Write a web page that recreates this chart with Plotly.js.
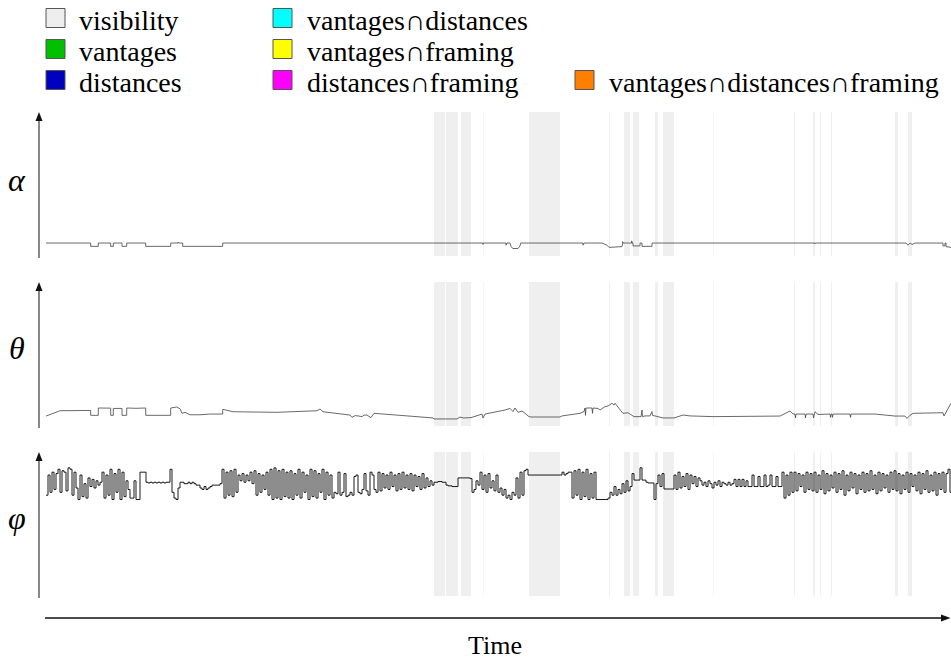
<!DOCTYPE html>
<html><head><meta charset="utf-8">
<script src="https://cdn.plot.ly/plotly-3.0.1.min.js"></script>
<style>html,body{margin:0;padding:0;background:#fff}#chart{width:951px;height:661px}</style>
</head><body><div id="chart"></div>
<script>
// ---------------- data ----------------
const legendLabels = ['visibility','vantages','distances','vantages∩distances','vantages∩framing','distances∩framing','vantages∩distances∩framing'];
const legendColors = ['#eeeeee','#00c000','#0000c0','#00ffff','#ffff00','#ff00ff','#ff8000'];
const panelLabels = ['α','θ','φ'];
const timeLabel = 'Time';

// visibility intervals (time units)
const visStart = [388,400,415,437,483,563,578,587,609,617,667,748,767,774,785,849,862];
const visEnd   = [399,412,425,437.6,514,564,584,593,612,628,667.6,749,769,775,786,852,866];

// alpha samples [time, value]
const alphaSamples = [[0,9],[44.7,9],[44.7,6.7],[52.3,6.7],[52.3,9],[64.7,9],[64.7,6.7],[67.3,6.7],[67.3,9],[76,9],[76,6.7],[80.7,6.7],[80.7,9],[99.7,9],[99.7,6.7],[124.7,6.7],[124.7,9],[132,9],[132,9.6],[133,9],[136.7,9],[136.7,6.7],[176.7,6.7],[176.7,9],[437,9],[437,8],[437.5,9],[460,9],[460,7.5],[461,9],[464,9],[465,6.5],[467,5.2],[472,5.2],[474,7],[474.7,9],[537,9],[537,7.5],[538,9],[556,9],[558,8.3],[561,7.5],[563,6],[572,6],[576,6.5],[576.7,9],[576.7,10],[577.2,9],[585.7,9],[585.7,10.5],[586.2,9],[587,9],[587,7],[594,7],[594,9],[596,9],[596,6.7],[606,6.7],[606,9],[769,9],[769,8.5],[769.5,9],[860,9],[862,7.5],[864,9],[866,8],[869,9],[897,9],[897,7],[899,7],[899,9],[900,9],[900,6.5],[905,6]];

// theta samples [time, value]
const thetaSamples = [[0,6.9],[9,9.5],[14,10.6],[44.7,10.8],[44.7,7.4],[52.3,7.4],[52.3,12.5],[64.7,12.4],[64.7,7.4],[67.3,7.4],[67.3,12.2],[76,12.2],[76,7.4],[80.7,7.4],[80.7,12.5],[90,12.3],[99.7,12.5],[99.7,7.4],[124.7,7.4],[124.7,12.5],[130.7,13.2],[134,12.0],[136,8.8],[139,9.5],[144,7.8],[154,7.8],[164,8.3],[176.7,8.3],[176.7,11.6],[187,9.9],[231,9.5],[271,10.6],[274,11.8],[277,9.9],[304,7.6],[306,6.0],[309,7.2],[312,7.0],[316,6.5],[318,7.6],[321,7.6],[325,5.8],[328,8.8],[354,7.4],[387,5.6],[388,4.9],[411,4.9],[414,6.25],[417,5.6],[425,5.8],[430,7.0],[434,8.3],[436,8.3],[437,5.6],[439,8.3],[459,11.1],[464,12.2],[467,10.0],[469,12.5],[472,9.5],[476,10.4],[479,8.8],[483,6.5],[485,6.25],[514,6.25],[516,7.0],[534,8.8],[538,10.0],[539,12.5],[539.5,7.4],[540,12.5],[546,12.5],[546.5,8.8],[547,12.5],[552,12.2],[554,11.1],[557,12.5],[559,13.5],[562,13.9],[566,15.8],[568,14.5],[569,15.8],[571,14],[573,12],[575,10.4],[577,8.8],[582,9.2],[586,7.4],[588,6.5],[595,6.5],[596,11.1],[596.5,6.5],[599,7.0],[604,7.0],[606,10.0],[606.5,7.4],[609,7.0],[614,6.0],[616,5.8],[617,5.6],[628,5.6],[637,7.6],[644,7.0],[651,6.9],[667,6.5],[734,6.9],[741,9.5],[744,10.4],[747,8.3],[749,8.3],[749.5,5.6],[750,8.3],[759,8.3],[759.5,5.6],[760,8.3],[767,8.3],[767.5,5.6],[768,8.3],[769,9.9],[772,8.0],[784,8.3],[784.5,6.0],[785,8.3],[786,8.3],[786.5,6.0],[787,8.3],[804,8.3],[804.5,6.0],[805,8.3],[829,8.3],[844,7.4],[849,6.9],[859,6.9],[861,5.3],[864,7.4],[867,8.8],[894,9.2],[897,9.2],[898,6.9],[900,9.5],[902,12.0],[905,15.8]];

// phi runs: [start time, values sampled every 2 time units]
const phiStep = 2;
const phiRuns = [
 [0,[70,84,72,86,74,85]],
 [12,[88,72,87,86,73,89,88,70,86,75]],
 [32,[67,84,69,78,68]],
 [42,[82,76,81,75,80,77,79]],
 [56,[86,68,84,70,88,67,85,72,88,67,86,69,80]],
 [82,[74,68,68,80,67,67]],
 [94,[86,86,86]],
 [100,[79,78.5,79,78.5,79,78.5,79,78.5,79,78.5,79,79]],
 [124,[88,72,68,67,75,79]],
 [136,[79,78,78,79,78,79,78,77,77]],
 [154,[75,74,76,74,75]],
 [164,[76,77,77,77,77,78]],
 [176,[88,68,86,70,87,69,88,72,84,80,85,79,84,80,86,78,87,70,85,72,84,74,86,70,88,67,89,68,87,67,88,69,86,68]],
 [244,[87,67,85,70,88,68,86,72,84,67,88,69,87,68,85,72,88,67,86,70,84,68]],
 [288,[72,71,86,70,72,85,69,70]],
 [304,[72,70,83,84,72,71,74,85,73,70,86,84,74,72]],
 [332,[86,73,85,75,84,74,86,76,84,73,85,74,86,75,84,74,85,73,84,76,83,74,85,75,82,76,80,77]],
 [388,[79,79,79.5,79.5,79,79]],
 [400,[77,76.5,76.5,76,76,76]],
 [412,[82,82,82,82,82,82,81.5]],
 [426,[72,74,80,77]],
 [434,[86,74,84,72,85,75,80,73,84,72]],
 [454,[75,70,74,68,70,67,72]],
 [468,[70,82,68,86,70,87,88]],
 [482,[84,84,84,84,84,84,84,84,84,84,84,84,84,84,84,84]],
 [514,[84,86,84,85,86]],
 [524,[86,68,87,70,88,67,86,69,88,67,85,68,86]],
 [550,[67,67,67,67,67,67]],
 [562,[68,72,70,76,70,74,71,78,72,80,73,76]],
 [586,[85,80.5,80.5,80.5,89,80.5,80.5,79]],
 [602,[78.5,78.5,78.5,67,78]],
 [612,[84,76,85]],
 [618,[74.3,74.3,74.3,74.3,74.3]],
 [628,[84,74,86,75,83,76,85,74,84,78,83,76,82]],
 [654,[80,77,79,76,80,78,75,79,77,80,76,79,78,77,79,77,78]],
 [688,[81,76,81,76,81,76,80]],
 [702,[76,76,84,76,76,83,76,76,84,76,77,84,76,76,83,76,76]],
 [736,[86,68,84,70,86]],
 [746,[72,86,73,85,76,84,72,86,74,85,73]],
 [768,[86,72,84,74,87,71,85,73,84,75,86,72,85,74,87,70,84,73,86,75,85,71,84,74,86,72,85,73,87,74,84,71,86,73,85,75,84,72,86,74,87,73,85,71,84,74,86,72,85,76,84,73,86,71,85,74,87,72,84,73,86,70,85,74,86,72,85]],
 [902,[88,72,80]]
];

// ---------------- layout helpers ----------------
const W = 951, H = 661;
const px = x => x / W;
const py = y => 1 - y / H;
const FONT = 'Liberation Serif, Times New Roman, serif';

const phiT = [], phiV = [];
phiRuns.forEach(([t0, vals]) => vals.forEach((v, i) => { phiT.push(t0 + i * phiStep); phiV.push(v); }));

const traces = [
  {x: alphaSamples.map(p => p[0]), y: alphaSamples.map(p => p[1]), xaxis: 'x', yaxis: 'y', mode: 'lines', line: {color: '#444', width: 0.8}, showlegend: false, hoverinfo: 'skip'},
  {x: thetaSamples.map(p => p[0]), y: thetaSamples.map(p => p[1]), xaxis: 'x', yaxis: 'y2', mode: 'lines', line: {color: '#444', width: 0.8}, showlegend: false, hoverinfo: 'skip'},
  {x: phiT, y: phiV, xaxis: 'x', yaxis: 'y3', mode: 'lines', line: {shape: 'hv', color: '#000', width: 0.9}, showlegend: false, hoverinfo: 'skip'}
];

const shapes = [];
['y domain', 'y2 domain', 'y3 domain'].forEach(yr => {
  visStart.forEach((s, i) => {
    shapes.push({type: 'rect', xref: 'x', yref: yr, x0: s, x1: visEnd[i], y0: 0, y1: 1,
      fillcolor: '#efefef', line: {width: 0}, layer: 'below'});
  });
});

// vertical axis arrows
const panelTops = [112, 282, 452];
panelTops.forEach(top => {
  shapes.push({type: 'line', xref: 'paper', yref: 'paper', x0: px(39), x1: px(39), y0: py(top + 146), y1: py(top + 7),
    line: {color: '#555', width: 1.4}});
  shapes.push({type: 'path', xref: 'paper', yref: 'paper',
    path: `M ${px(35.5)} ${py(top + 9)} L ${px(39)} ${py(top)} L ${px(42.5)} ${py(top + 9)} Z`,
    fillcolor: '#111', line: {width: 0}});
});
// time arrow
shapes.push({type: 'line', xref: 'paper', yref: 'paper', x0: px(45), x1: px(943), y0: py(618), y1: py(618),
  line: {color: '#111', width: 1.3}});
shapes.push({type: 'path', xref: 'paper', yref: 'paper',
  path: `M ${px(941)} ${py(614.5)} L ${px(950.5)} ${py(618)} L ${px(941)} ${py(621.5)} Z`,
  fillcolor: '#111', line: {width: 0}});

// legend (manual, 3 columns)
const slots = [[0,0],[0,1],[0,2],[1,0],[1,1],[1,2],[2,2]];
const colSwatchX = [46, 273, 575], colTextX = [77, 305, 607], rowTop = [8.5, 39.5, 70.5];
const annotations = [];
legendLabels.forEach((lab, i) => {
  const [c, r] = slots[i];
  shapes.push({type: 'rect', xref: 'paper', yref: 'paper', x0: px(colSwatchX[c]), x1: px(colSwatchX[c] + 19),
    y0: py(rowTop[r] + 19), y1: py(rowTop[r]), fillcolor: legendColors[i], line: {color: '#555', width: 1}});
  annotations.push({xref: 'paper', yref: 'paper', x: px(colTextX[c]), y: py(rowTop[r] + 12), xanchor: 'left', yanchor: 'middle',
    text: lab, showarrow: false, font: {family: FONT, size: 28, color: '#000'}});
});

const labelY = [180, 348, 518];
panelLabels.forEach((lab, i) => {
  annotations.push({xref: 'paper', yref: 'paper', x: px(17), y: py(labelY[i]), xanchor: 'center', yanchor: 'middle',
    text: '<i>' + lab + '</i>', showarrow: false, font: {family: FONT, size: 32, color: '#000'}});
});
annotations.push({xref: 'paper', yref: 'paper', x: px(495), y: py(645), xanchor: 'center', yanchor: 'middle',
  text: timeLabel, showarrow: false, font: {family: FONT, size: 26, color: '#000'}});

const hidden = {visible: false, fixedrange: true};
const layout = {
  width: W, height: H, margin: {l: 0, r: 0, t: 0, b: 0},
  paper_bgcolor: '#fff', plot_bgcolor: 'rgba(0,0,0,0)', showlegend: false,
  xaxis: Object.assign({domain: [px(46), 1], range: [0, 905]}, hidden),
  yaxis: Object.assign({domain: [py(256), py(112)], range: [0, 100]}, hidden),
  yaxis2: Object.assign({domain: [py(426), py(282)], range: [0, 100]}, hidden),
  yaxis3: Object.assign({domain: [py(596), py(452)], range: [0, 100]}, hidden),
  shapes: shapes, annotations: annotations
};
Plotly.newPlot('chart', traces, layout, {displayModeBar: false, staticPlot: true});
</script>
</body></html>
